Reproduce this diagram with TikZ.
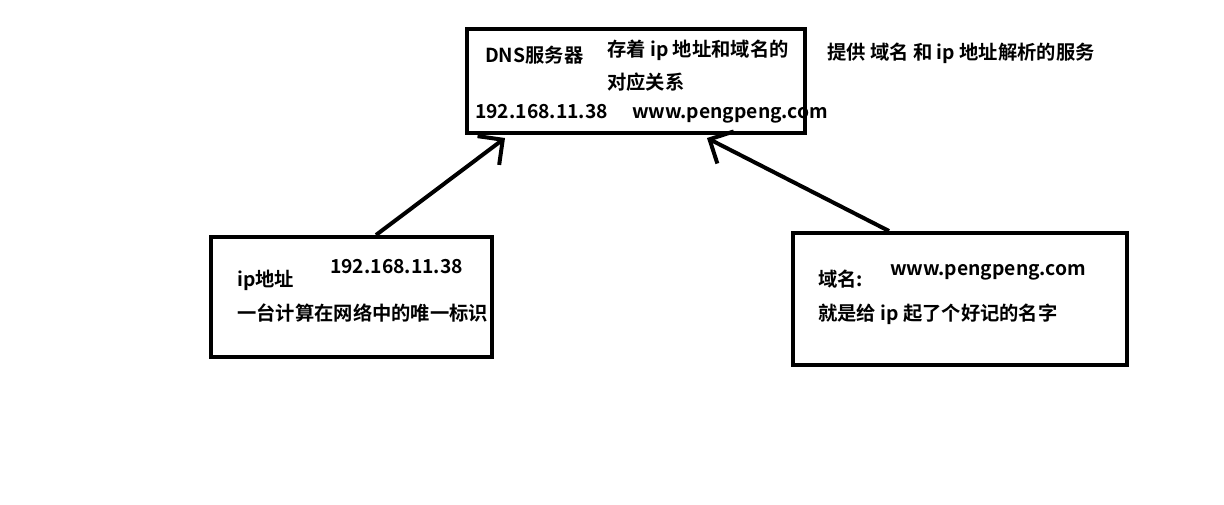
\documentclass[tikz,border=0pt]{standalone}
\usepackage{fontspec}
\setmainfont{Noto Sans CJK SC}[BoldFont={Noto Sans CJK SC Bold}]
\usetikzlibrary{arrows.meta}

\begin{document}
\begin{tikzpicture}[x=1pt, y=-1pt,
  box/.style={rectangle, draw=black, line width=4pt},
  txt/.style={anchor=base west, inner sep=0pt, font=\bfseries\fontsize{19.3}{22}\selectfont},
  arrow/.style={line width=4pt, -{Straight Barb[length=18pt,width=36pt]}}
]
\useasboundingbox (0,0) rectangle (1224,504);

% boxes
\node (dns) [box, minimum width=338pt, minimum height=104pt] at (636,81) {};
\node (ipbox) [box, minimum width=281pt, minimum height=120pt] at (351.5,297) {};
\node (namebox) [box, minimum width=334pt, minimum height=132pt] at (960,299) {};

% dns server texts
\node (dnstitle) [txt] at (485,62) {DNS服务器};
\node (dnsstore) [txt] at (607,56) {存着 ip 地址和域名的};
\node (dnsmap) [txt] at (607,89) {对应关系};
\node (dnsip) [txt] at (475,118) {192.168.11.38};
\node (dnsurl) [txt] at (632,118) {www.pengpeng.com};
\node (dnsnote) [txt] at (827,59) {提供 域名 和 ip 地址解析的服务};

% ip address texts
\node (iptitle) [txt] at (237,286) {ip地址};
\node (ipvalue) [txt] at (330,273) {192.168.11.38};
\node (ipdesc) [txt] at (237,320) {一台计算在网络中的唯一标识};

% domain name texts
\node (nametitle) [txt] at (818,286) {域名:};
\node (namevalue) [txt] at (890,275) {www.pengpeng.com};
\node (namedesc) [txt] at (818,320) {就是给 ip 起了个好记的名字};

\draw [arrow] ([xshift=24.5pt]ipbox.north) -- ([xshift=-131pt,yshift=-3pt]dns.south);
\draw [arrow] ([xshift=-71pt]namebox.north) -- ([xshift=71pt,yshift=-3pt]dns.south);

\end{tikzpicture}
\end{document}
